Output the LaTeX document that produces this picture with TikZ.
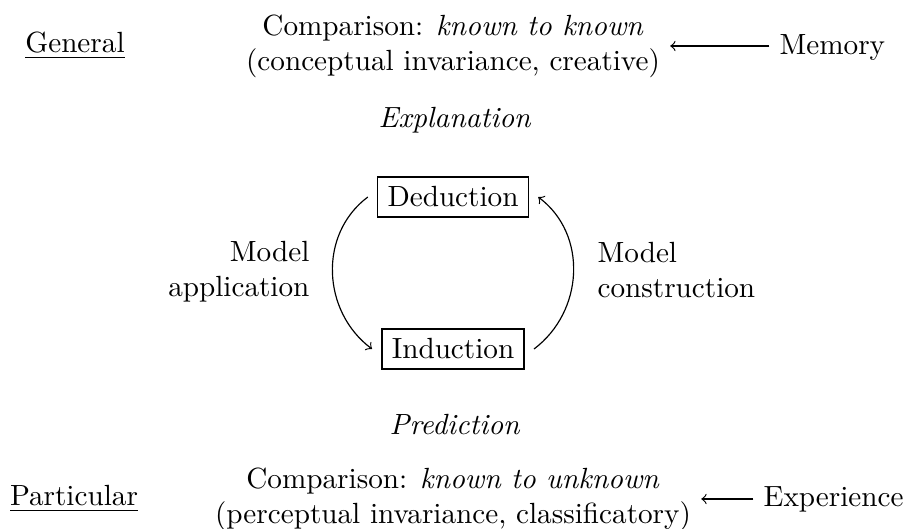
\documentclass[tikz,border=0pt]{standalone}
\usetikzlibrary{calc}
\begin{document}
\begin{tikzpicture}[x=0.3425pt,y=-0.3425pt,
  txt/.style={inner sep=3.33pt},
  boxnode/.style={draw,line width=0.4pt,inner sep=3.33pt,outer sep=3.42pt},
  conn/.style={->,line width=0.4pt}]
\useasboundingbox (0,0) rectangle (904,529);
% side labels
\node[txt,anchor=base] (gen) at (75,53) {\underline{General}};
\node[txt,anchor=base] (par) at (74,506) {\underline{Particular}};
% comparisons
\node[txt,align=center] (cmpt) at (453,46) {Comparison: \textit{known to known}\\(conceptual invariance, creative)};
\node[txt,align=center] (cmpb) at (453,499) {Comparison: \textit{known to unknown}\\(perceptual invariance, classificatory)};
\node[txt,anchor=base west] (mem) at (769.3,55) {Memory};
\node[txt,anchor=base west] (exp) at (753.3,507) {Experience};
\draw[conn] (cmpt.east -| mem.west) -- (cmpt.east);
\draw[conn] (cmpb.east -| exp.west) -- (cmpb.east);
% explanation / prediction
\node[txt,anchor=base] (expl) at (455,128) {\textit{Explanation}};
\node[txt,anchor=base] (pred) at (455,435) {\textit{Prediction}};
% cycle
\node[boxnode,anchor=base] (ded) at (453,207) {Deduction};
\node[boxnode,anchor=base] (ind) at (453,359) {Induction};
\draw[conn] (ded.west) .. controls +(-49.8,37.4) and +(-49.8,-37.4) .. (ind.west);
\draw[conn] (ind.east) .. controls +(49.8,-37.4) and +(49.8,37.4) .. (ded.east);
\node[inner sep=0pt,align=right,anchor=east] (mapp) at (310,272) {Model\\application};
\node[inner sep=0pt,align=left,anchor=west] (mcon) at (597,270.4) {Model\\construction};
\end{tikzpicture}
\end{document}
